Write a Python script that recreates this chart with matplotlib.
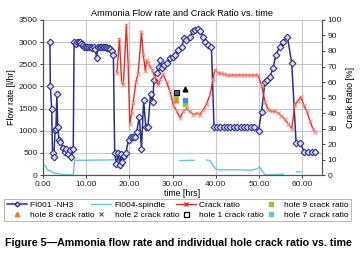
#!/usr/bin/env python3
import numpy as np
import matplotlib
matplotlib.use("Agg")
import matplotlib.pyplot as plt
from matplotlib.lines import Line2D

plt.rcParams["font.family"] = ["Liberation Sans", "DejaVu Sans"]

# FI001 -NH3 flow rate [l/hr]
nh3_time = [1.6, 1.7, 2.0, 2.2, 2.5, 2.8, 3.0, 3.2, 3.4, 3.7, 4.0, 4.6, 5.1, 5.4, 5.8, 6.2, 6.5, 7.0,
            7.2, 7.6, 7.9, 8.3, 8.6, 8.9, 9.2, 9.6, 9.9, 10.3, 10.6, 11.0, 11.4, 11.7, 12.1, 12.4,
            12.7, 13.1, 13.5, 13.8, 14.2, 14.5, 14.9, 15.2, 15.6, 16.0, 16.3,
            16.6, 17.0, 17.4, 17.8, 18.1, 18.4, 18.8, 19.2, 19.8, 20.3, 20.8, 21.3, 21.7, 22.3,
            22.8, 23.3, 23.8, 24.3, 24.9, 25.4, 25.7, 26.3, 26.8, 27.1, 27.5, 28.1, 28.7, 29.4,
            30.2, 30.6, 31.3, 32.1, 32.7, 33.2, 34.0, 34.8, 35.3, 35.8, 36.4, 37.1, 37.5, 38.3,
            39.0, 39.6, 40.4, 41.1, 41.9, 42.7, 43.4, 44.2, 45.0, 45.8, 46.5, 47.3, 48.1, 48.8,
            49.9, 50.6, 51.4, 51.9, 52.5, 53.3, 53.9, 54.9, 55.6, 56.6, 57.6, 58.6, 59.5, 60.5,
            61.4, 62.2, 62.9]
nh3_flow = [3000, 2000, 1500, 500, 400, 1020, 1050, 1820, 1085, 790, 740, 610, 520, 600, 480, 560, 400, 590,
            3000, 2950, 3010, 3010, 3010, 2960, 2930, 2900, 2900, 2880, 2880, 2880, 2870, 2880, 2850, 2650,
            2880, 2880, 2880, 2880, 2880, 2880, 2870, 2870, 2850, 2800, 2710,
            500, 250, 500, 226, 480, 300, 420, 500, 800, 860, 860, 870, 980, 1320,
            600, 1690, 1090, 1090, 1820, 1650, 2150, 2310, 2440, 2600, 2410, 2480, 2520, 2635,
            2670, 2710, 2820, 2900, 3090, 3050, 3120, 3240, 3275, 3300, 3240, 3120, 3010, 2935,
            2900, 1090, 1090, 1090, 1090, 1090, 1090, 1090, 1090, 1090, 1090, 1090, 1090, 1090,
            990, 1430, 2110, 2150, 2220, 2410, 2710, 2900, 3010, 3120, 2520, 730, 730, 527,
            527, 527, 527]

# FI004-spindle flow rate [l/hr], gaps as nan
spindle_time = [0.0, 0.5, 1.0, 1.5, 2.0, 2.5, 3.0, 3.5, 4.0, 5.0, 6.0, 7.0, 7.3, 8.0, 10.0, 12.0, 14.0, 16.5,
                16.6, 31.7, 33.0, 35.0, 35.1, 37.9, 38.7, 39.3, 39.9, 40.5, 45.0, 48.0, 49.5, 50.2,
                51.0, 51.7, 53.0, 55.6, 55.7, 58.7, 59.7]
spindle_flow = [230, 220, 120, 110, 70, 60, 30, 40, 20, 10, 5, 5, 340, 335, 335, 340, 340, 345,
                np.nan, 330, 330, 335, np.nan, 340, 330, 230, 150, 120, 120, 110, 140, 180,
                50, 0, 10, 20, np.nan, 75, 75]

# Crack ratio [%]
crack_time = [17.1, 17.7, 18.2, 18.6, 19.3, 19.7, 20.1, 20.5, 20.9, 21.5, 22.0, 22.8, 23.2, 23.7,
              24.0, 24.4, 24.8, 25.3, 25.9, 26.7, 27.2, 27.8, 28.6, 29.4, 30.2, 31.0, 31.7, 32.5,
              33.3, 34.0, 34.8, 35.6, 36.3, 37.1, 37.9, 38.7, 39.4, 39.8, 40.5, 41.2, 41.9, 42.7,
              43.4, 44.2, 45.0, 45.8, 46.5, 47.3, 48.1, 48.8, 49.8, 50.6, 51.4, 52.2, 53.0, 53.8,
              54.5, 55.2, 56.0, 56.8, 57.6, 58.3, 59.0, 59.7, 60.4, 61.1, 61.8, 62.5, 62.9]
crack_ratio = [66, 88, 60, 58, 97, 72, 33, 40, 47, 60, 65, 92, 78, 67,
               74, 72, 70, 68, 63, 58, 62, 65, 60, 54, 45, 41, 37, 41,
               43, 41, 39, 40, 39, 42, 46, 52, 62, 68, 66, 65.5, 65, 64.5,
               64.5, 64.5, 64.5, 64.5, 64.5, 64.5, 64.5, 64.5, 64.5, 58, 47.3, 42, 41, 41,
               40, 38, 36, 33, 30, 45, 48, 50.5, 45, 41, 35, 30, 28]

# individual hole crack ratios [%]
hole1_time, hole1_ratio = [30.8], [53.7]
hole2_time, hole2_ratio = [30.8], [53.7]
hole9_time, hole9_ratio = [30.8, 32.9], [50.6, 46.0]
hole8_time, hole8_ratio = [30.8], [48.2]
hole7_time, hole7_ratio = [32.9], [48.6]
hole_other_time, hole_other_ratio = [32.9], [55.2]

x_ticks = [0, 10, 20, 30, 40, 50, 60]

NAVY = "#2b2f8a"
RED = "#ee2a24"
CYAN = "#62c6da"
GRID = "#c8c8c8"

fig = plt.figure(figsize=(3.63, 2.56), dpi=100)
ax = fig.add_axes([0.1185, 0.316, 0.7685, 0.606])
ax2 = ax.twinx()

ax.plot(spindle_time, spindle_flow, color=CYAN, lw=1.0, zorder=2)
ax.plot(nh3_time, nh3_flow, color=NAVY, lw=1.1, marker="D", ms=3.4, mfc="#d9dcf2",
        mec=NAVY, mew=0.8, zorder=3)

ax2.plot(crack_time, crack_ratio, color=RED, lw=1.0, marker="x", ms=3.4, mec="#f48a80",
         mew=0.7, zorder=3)
ax2.plot(hole9_time, hole9_ratio, ls="none", marker="s", ms=3.2, color="#8dc63f", zorder=4)
ax2.plot(hole8_time, hole8_ratio, ls="none", marker="^", ms=3.2, color="#f07c22", zorder=4)
ax2.plot(hole7_time, hole7_ratio, ls="none", marker="s", ms=3.2, color="#3b8fcf", zorder=5)
ax2.plot(hole1_time, hole1_ratio, ls="none", marker="s", ms=3.6, mfc="#8a4a9c", mec="black",
         mew=0.8, zorder=5)
ax2.plot(hole2_time, hole2_ratio, ls="none", marker="x", ms=2.5, color="#7a3d8c", mew=0.7, zorder=6)
ax2.plot(hole_other_time, hole_other_ratio, ls="none", marker="^", ms=3.4, color="black", zorder=5)

ax.set_xlim(0, 64.6)
ax.set_ylim(0, 3500)
ax2.set_ylim(0, 100)
ax.set_xticks(x_ticks)
ax.set_xticklabels([f"{t:.2f}" for t in x_ticks])
ax.set_yticks(np.arange(0, 3501, 500))
ax2.set_yticks(np.arange(0, 101, 10))

ax.grid(True, color=GRID, lw=0.8)
ax.set_axisbelow(True)
for a in (ax, ax2):
    a.tick_params(labelsize=6, length=2.5, width=0.6, pad=1.5, colors="#222222")
    a.spines["top"].set_visible(False)
    for side in ("left", "right", "bottom"):
        a.spines[side].set_color("#555555")
        a.spines[side].set_linewidth(0.8)

ax.set_title("Ammonia Flow rate and Crack Ratio vs. time", fontsize=6.6, pad=3)
ax.set_xlabel("time [hrs]", fontsize=6.3, labelpad=1)
ax.set_ylabel("Flow rate [l/hr]", fontsize=6.3, labelpad=2)
ax2.set_ylabel("Crack Ratio [%]", fontsize=6.3, labelpad=3)

handles = [
    Line2D([], [], color=NAVY, lw=1.1, marker="D", ms=2.5, mfc="#d9dcf2", mec=NAVY),
    Line2D([], [], ls="none", marker="^", ms=3.2, color="#f07c22"),
    Line2D([], [], color=CYAN, lw=1.0),
    Line2D([], [], ls="none", marker="x", ms=3.2, color="#7a3d8c", mew=0.8),
    Line2D([], [], color=RED, lw=0.9, marker="x", ms=3.2, mec=RED),
    Line2D([], [], ls="none", marker="s", ms=3.6, mfc="white", mec="black", mew=0.9),
    Line2D([], [], ls="none", marker="s", ms=3.2, color="#8dc63f"),
    Line2D([], [], ls="none", marker="s", ms=3.2, color="#5bc8dc"),
]
labels = ["FI001 -NH3", "hole 8 crack ratio", "FI004-spindle", "hole 2 crack ratio",
          "Crack ratio", "hole 1 crack ratio", "hole 9 crack ratio", "hole 7 crack ratio"]
leg = fig.legend(handles, labels, ncol=4, loc="upper left", bbox_to_anchor=(0.012, 0.13, 0.955, 0.093),
                 mode="expand", fontsize=6.0, frameon=True, fancybox=False, handlelength=2.4,
                 handletextpad=0.4, columnspacing=0.8, borderpad=0.3, labelspacing=0.2,
                 borderaxespad=0.0)
leg.get_frame().set_edgecolor("#999999")
leg.get_frame().set_linewidth(0.6)

fig.text(0.015, 0.05, "Figure 5\u2014Ammonia flow rate and individual hole crack ratio vs. time",
         fontsize=7.7, fontweight="bold", ha="left", va="center")

fig.savefig("out.png", dpi=100)
